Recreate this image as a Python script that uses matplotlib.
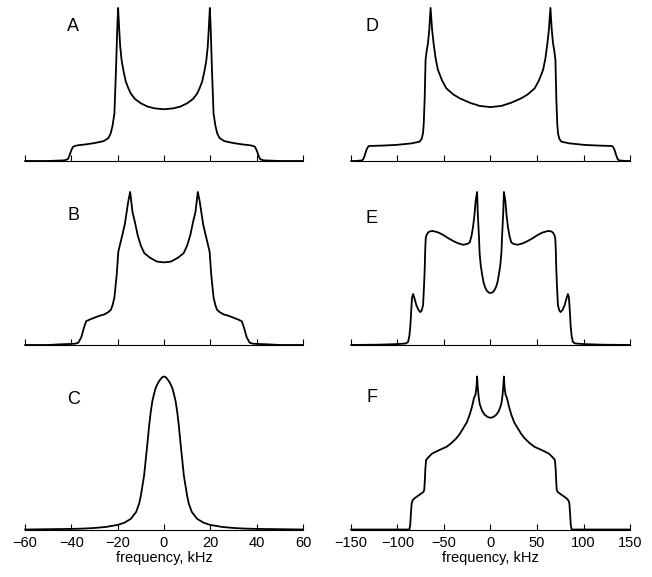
#!/usr/bin/env python3
"""Redraw the six powder-pattern spectra (A-F) as a 3x2 grid."""

import matplotlib

matplotlib.use("Agg")
import matplotlib.pyplot as plt

# left column, frequency in kHz
A_x = [-60, -50, -43, -41.5, -40.8, -40, -39.3, -38.5, -37, -34, -30, -26, -24, -23, -22.2, -21.4,
       -20.7, -20.2, -19.8, -19.4, -18.9, -18.3, -17.5, -16.5, -15.5, -14.3, -12.5, -10, -7, -4, 0,
       4, 7, 10, 12.5, 14.3, 15.5, 16.5, 17.5, 18.3, 18.9, 19.4, 19.8, 20.2, 20.7, 21.4, 22.2, 23, 24, 26,
       30, 34, 37, 38.5, 39.3, 40, 40.8, 41.5, 43, 50, 60]
A_y = [0, 0, 0.004, 0.012, 0.035, 0.07, 0.092, 0.098, 0.103, 0.108, 0.117, 0.13, 0.15, 0.18, 0.23, 0.31,
       0.60, 0.85, 1.0, 0.88, 0.75, 0.66, 0.59, 0.52, 0.48, 0.44, 0.405, 0.377, 0.355, 0.344, 0.338,
       0.344, 0.355, 0.377, 0.405, 0.44, 0.48, 0.52, 0.59, 0.66, 0.75, 0.88, 1.0, 0.85, 0.60, 0.31, 0.23, 0.18, 0.15, 0.13,
       0.117, 0.108, 0.103, 0.098, 0.092, 0.07, 0.035, 0.012, 0.004, 0, 0]

B_x = [-60, -50, -45, -42, -38.5, -37, -35.7, -34.6, -33.6, -32.5, -31.4, -28, -25.7, -24, -22.9, -22.2,
       -21.4, -20.4, -19.7, -18.6, -17.8, -16.9, -16.2, -15.4, -14.6, -13.6, -12.5, -11.4, -10, -8.5,
       -6, -3, 0, 3, 6, 8.5, 10, 11.4, 12.5, 13.6, 14.6, 15.4, 16.2, 16.9, 17.8, 18.6, 19.7, 20.4,
       21.4, 22.2, 22.9, 24, 25.7, 28, 31.4, 32.5, 33.6, 34.6, 35.7, 37, 38.5, 42, 45, 50, 60]
B_y = [0, 0, 0.004, 0.006, 0.008, 0.015, 0.05, 0.11, 0.155, 0.163, 0.17, 0.19, 0.20, 0.215, 0.23, 0.26,
       0.31, 0.46, 0.61, 0.68, 0.73, 0.79, 0.86, 0.94, 1.0, 0.87, 0.80, 0.72, 0.65, 0.60,
       0.57, 0.545, 0.54, 0.545, 0.57, 0.60, 0.65, 0.72, 0.80, 0.87, 1.0, 0.94, 0.86, 0.79, 0.73, 0.68, 0.61, 0.46,
       0.31, 0.26, 0.23, 0.215, 0.20, 0.19, 0.17, 0.163, 0.155, 0.11, 0.05, 0.015, 0.008, 0.006, 0.004, 0, 0]

C_x = [-60, -50, -40, -35, -30, -25, -20, -17, -14.3, -12, -10.7, -10, -8.6, -7.1, -6.4, -5.7, -5, -4.3,
       -3.7, -3, -2.3, -1.5, -0.8, 0, 0.8, 1.5, 2.3, 3, 3.7, 4.3, 5, 5.7, 6.4, 7.1, 8.6, 10, 10.7, 12,
       14.3, 17, 20, 25, 30, 35, 40, 50, 60]
C_y = [0, 0.002, 0.004, 0.006, 0.01, 0.017, 0.03, 0.045, 0.07, 0.115, 0.17, 0.22, 0.35, 0.57, 0.68, 0.77, 0.84, 0.885,
       0.92, 0.945, 0.965, 0.982, 0.995, 1.0, 0.995, 0.982, 0.965, 0.945, 0.92, 0.885, 0.84, 0.77, 0.68, 0.57, 0.35, 0.22, 0.17, 0.115,
       0.07, 0.045, 0.03, 0.017, 0.01, 0.006, 0.004, 0.002, 0]

# right column, frequency in kHz
D_x = [-150, -145, -138, -136.5, -135, -133.5, -132, -130.5, -125, -115, -101.3, -85, -76.2, -74, -72.6,
       -71.8, -70.8, -69.8, -68.6, -67.2, -65.8, -64.4, -62.8, -61.2, -59, -56.5, -52, -47.5, -40, -33.2,
       -22, -11.7, 0, 11.7, 22, 33.2, 40, 47.5, 52, 56.5, 59, 61.2, 62.8, 64.4, 65.8, 67.2, 68.6, 69.8,
       70.8, 71.8, 72.6, 74, 76.2, 85, 101.3, 115, 125, 130.5, 132, 133.5, 135, 136.5, 138, 145, 150]
D_y = [0, 0, 0.004, 0.015, 0.04, 0.07, 0.09, 0.098, 0.099, 0.101, 0.105, 0.115, 0.126, 0.145, 0.18,
       0.24, 0.40, 0.66, 0.72, 0.77, 0.86, 1.0, 0.86, 0.77, 0.67, 0.595, 0.525, 0.475, 0.435, 0.41,
       0.38, 0.36, 0.352, 0.36, 0.38, 0.41, 0.435, 0.475, 0.525, 0.595, 0.67, 0.77, 0.86, 1.0, 0.86, 0.77, 0.72, 0.66,
       0.40, 0.24, 0.18, 0.145, 0.126, 0.115, 0.105, 0.101, 0.099, 0.098, 0.09, 0.07, 0.04, 0.015, 0.004, 0, 0]

E_x = [-150, -120, -110, -100, -95, -91, -88.6, -87.2, -86.1, -85.2, -84.3, -83.2, -81.5, -79.7, -77.5,
       -75.4, -74, -72.5, -71.5, -70.7, -70.2, -69.6, -68.6, -67.1, -65, -61.7, -56, -51, -46, -40.2,
       -35, -29.5, -25, -22.4, -20.5, -18.8, -17.2, -16, -15.2, -14.4, -13.8, -13, -12.3, -11.7, -10.5, -9,
       -7.5, -6, -4, -2, 0, 2, 4, 6, 7.5, 9, 10.5, 11.7, 12.3, 13, 13.8, 14.4, 15.2, 16, 17.2, 18.8, 20.5,
       22.4, 25, 29.5, 35, 40.2, 46, 51, 56, 61.7, 65, 67.1, 68.6, 69.6, 70.2, 70.7, 71.5, 72.5, 74, 75.4,
       77.5, 79.7, 81.5, 83.2, 84.3, 85.2, 86.1, 87.2, 88.6, 91, 95, 100, 110, 120, 150]
E_y = [0, 0.002, 0.004, 0.006, 0.008, 0.01, 0.02, 0.06, 0.13, 0.23, 0.31, 0.333, 0.30, 0.26, 0.23,
       0.215, 0.225, 0.26, 0.38, 0.50, 0.62, 0.70, 0.72, 0.735, 0.743, 0.745, 0.735, 0.72, 0.70, 0.68,
       0.665, 0.655, 0.66, 0.67, 0.71, 0.77, 0.85, 0.94, 0.97, 1.0, 0.88, 0.78, 0.69, 0.60, 0.52, 0.46,
       0.41, 0.38, 0.355, 0.343, 0.34, 0.343, 0.355, 0.38, 0.41, 0.46, 0.52, 0.60, 0.69, 0.78, 0.88, 1.0, 0.97, 0.94, 0.85, 0.77, 0.71,
       0.67, 0.66, 0.655, 0.665, 0.68, 0.70, 0.72, 0.735, 0.745, 0.743, 0.735, 0.72, 0.70, 0.62, 0.50, 0.38, 0.26, 0.225, 0.215,
       0.23, 0.26, 0.30, 0.333, 0.31, 0.23, 0.13, 0.06, 0.02, 0.01, 0.008, 0.006, 0.004, 0.002, 0]

F_x = [-150, -100, -90, -87.2, -86.3, -85.6, -84.8, -83.8, -81.5, -78, -74.5, -72.2, -71.2, -70.6, -70,
       -69.2, -67.1, -63, -58.2, -53, -47.4, -42, -36.7, -33, -29.5, -25.5, -22.4, -20, -17.7, -16.2,
       -15.1, -14.4, -13.7, -12.8, -11.6, -9, -6.2, -3, 0, 3, 6.2, 9, 11.6, 12.8, 13.7, 14.4, 15.1,
       16.2, 17.7, 20, 22.4, 25.5, 29.5, 33, 36.7, 42, 47.4, 53, 58.2, 63, 67.1, 69.2, 70, 70.6, 71.2,
       72.2, 74.5, 78, 81.5, 83.8, 84.8, 85.6, 86.3, 87.2, 90, 100, 150]
F_y = [0, 0, 0, 0, 0.03, 0.10, 0.17, 0.19, 0.205, 0.22, 0.235, 0.245, 0.26, 0.32, 0.40,
       0.455, 0.47, 0.495, 0.51, 0.525, 0.54, 0.565, 0.596, 0.625, 0.66, 0.70, 0.75, 0.80, 0.86, 0.88,
       0.93, 1.0, 0.93, 0.87, 0.82, 0.775, 0.75, 0.735, 0.73, 0.735, 0.75, 0.775, 0.82, 0.87, 0.93, 1.0, 0.93,
       0.88, 0.86, 0.80, 0.75, 0.70, 0.66, 0.625, 0.596, 0.565, 0.54, 0.525, 0.51, 0.495, 0.47, 0.455, 0.40, 0.32, 0.26,
       0.245, 0.235, 0.22, 0.205, 0.19, 0.17, 0.10, 0.03, 0, 0, 0, 0]

LEFT_TICKS = [-60, -40, -20, 0, 20, 40, 60]
RIGHT_TICKS = [-150, -100, -50, 0, 50, 100, 150]
XLABEL = "frequency, kHz"

plt.rcParams["font.family"] = ["Liberation Sans", "DejaVu Sans"]


def draw_panel(fig, rect, xs, ys, letter, ticks, letter_pos, bottom_row):
    ax = fig.add_axes(rect)
    ax.plot(xs, ys, color="black", linewidth=1.3, clip_on=False,
            solid_joinstyle="round", solid_capstyle="round")
    ax.set_xlim(ticks[0], ticks[-1])
    ax.set_ylim(0, 1.0)
    for side in ("top", "left", "right"):
        ax.spines[side].set_visible(False)
    ax.spines["bottom"].set_linewidth(0.8)
    ax.set_yticks([])
    ax.set_xticks(ticks)
    ax.tick_params(axis="x", direction="in", length=4, width=0.8, pad=4.5, labelsize=10.5)
    if bottom_row:
        ax.set_xlabel(XLABEL, fontsize=10.5, labelpad=1)
    else:
        ax.set_xticklabels([])
    ax.text(letter_pos[0], letter_pos[1], letter, transform=ax.transAxes,
            ha="center", va="center", fontsize=13)
    return ax


def main() -> int:
    fig = plt.figure(figsize=(6.52, 5.77), dpi=100)
    lx, lw = 0.0383, 0.4264
    rx, rw = 0.5383, 0.4280
    h = 0.2652
    rows = [0.7210, 0.4021, 0.0823]

    draw_panel(fig, [lx, rows[0], lw, h], A_x, A_y, "A", LEFT_TICKS, (0.173, 0.876), False)
    draw_panel(fig, [lx, rows[1], lw, h], B_x, B_y, "B", LEFT_TICKS, (0.176, 0.844), False)
    draw_panel(fig, [lx, rows[2], lw, h], C_x, C_y, "C", LEFT_TICKS, (0.176, 0.850), True)
    draw_panel(fig, [rx, rows[0], rw, h], D_x, D_y, "D", RIGHT_TICKS, (0.074, 0.876), False)
    draw_panel(fig, [rx, rows[1], rw, h], E_x, E_y, "E", RIGHT_TICKS, (0.074, 0.827), False)
    draw_panel(fig, [rx, rows[2], rw, h], F_x, F_y, "F", RIGHT_TICKS, (0.074, 0.865), True)

    fig.savefig("out.png", dpi=100)
    plt.close(fig)
    return 0


if __name__ == "__main__":
    raise SystemExit(main())
